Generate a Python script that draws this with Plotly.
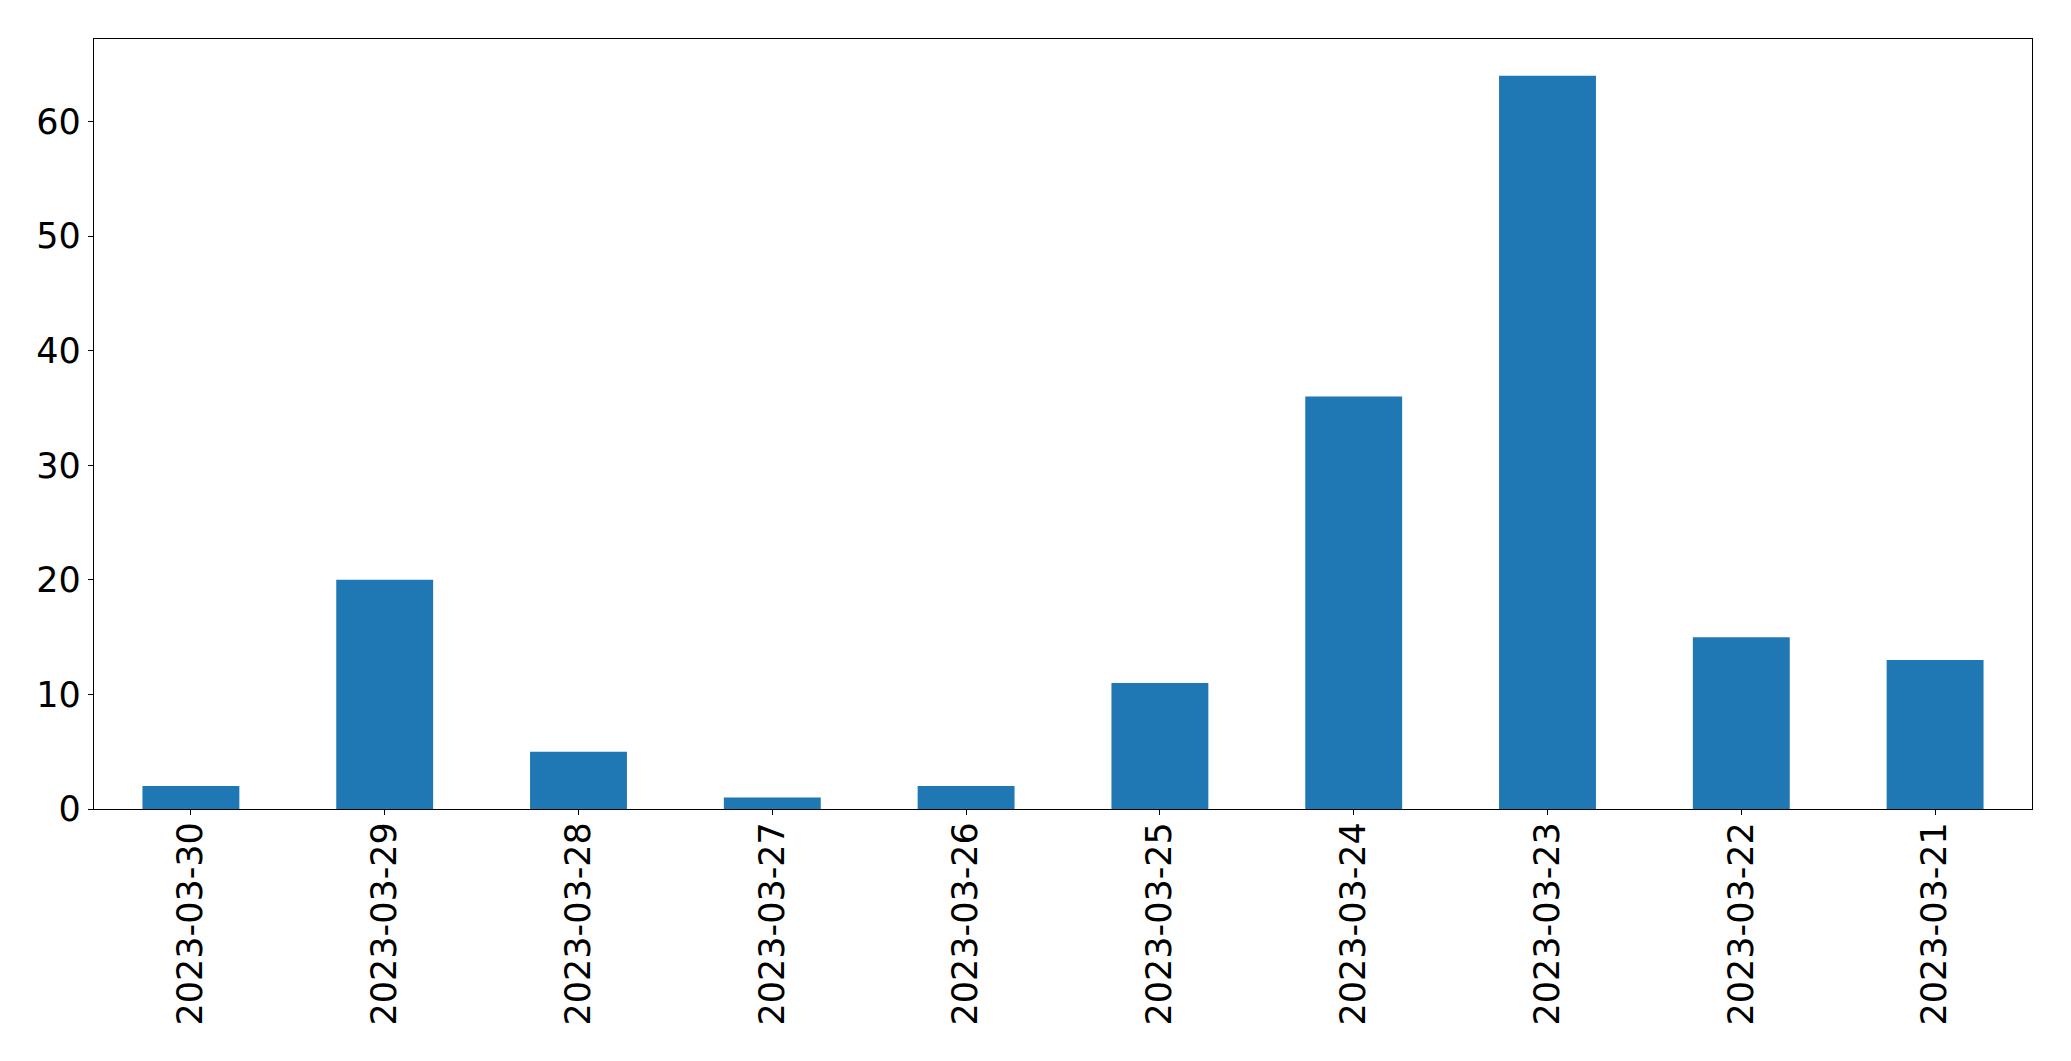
import plotly.graph_objects as go

dates = ["2023-03-30", "2023-03-29", "2023-03-28", "2023-03-27", "2023-03-26",
         "2023-03-25", "2023-03-24", "2023-03-23", "2023-03-22", "2023-03-21"]
counts = [2, 20, 5, 1, 2, 11, 36, 64, 15, 13]
y_ticks = [0, 10, 20, 30, 40, 50, 60]

fig = go.Figure(go.Bar(x=dates, y=counts, width=0.5, marker_color="#1f77b4",
                       marker_line_width=0))

font = dict(family="DejaVu Sans", size=35, color="black")
fig.update_layout(
    width=2071, height=1061,
    margin=dict(l=94, r=39, t=39, b=252),
    paper_bgcolor="white", plot_bgcolor="white",
    showlegend=False,
    font=font,
)
fig.update_xaxes(type="category", range=[-0.5, 9.5], tickangle=-90,
                 showline=True, linecolor="black", linewidth=1.3, mirror=True,
                 ticks="outside", ticklen=5, tickwidth=1.3, tickcolor="black",
                 ticklabelstandoff=-7,
                 showgrid=False, zeroline=False, tickfont=font)
fig.update_yaxes(range=[0, 67.2], tickvals=y_ticks,
                 showline=True, linecolor="black", linewidth=1.3, mirror=True,
                 ticks="outside", ticklen=5, tickwidth=1.3, tickcolor="black",
                 showgrid=False, zeroline=False, tickfont=font)

fig.write_html("out.html")
